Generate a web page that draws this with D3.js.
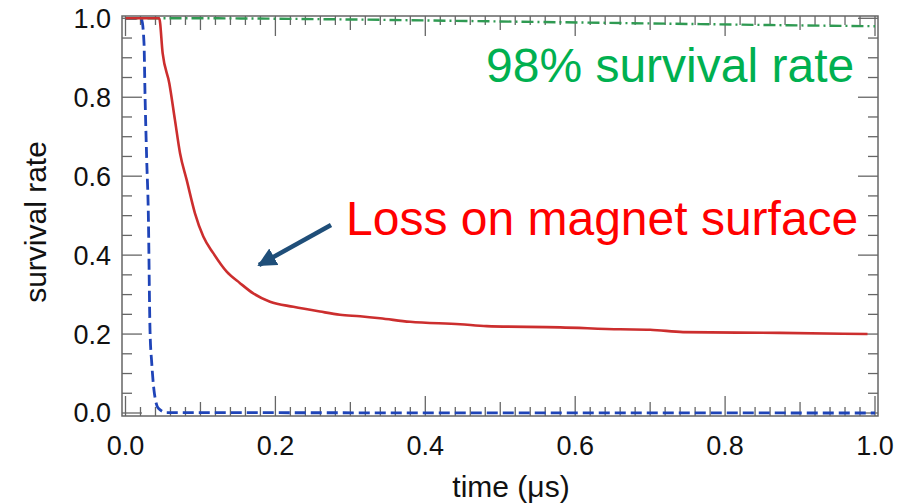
<!DOCTYPE html>
<html>
<head>
<meta charset="utf-8">
<script src="https://cdn.jsdelivr.net/npm/d3@7/dist/d3.min.js"></script>
<style>
  html, body { margin: 0; padding: 0; background: #fff; }
  svg { display: block; font-family: "Liberation Sans", Arial, sans-serif; }
</style>
</head>
<body>
<svg id="chart" width="906" height="504"></svg>
<script>
// Survival rate vs. time (µs) for three cases
const xTicks = [0.0, 0.2, 0.4, 0.6, 0.8, 1.0];
const yTicks = [0.0, 0.2, 0.4, 0.6, 0.8, 1.0];

// dashed blue: fast loss
const blueX = [0, 0.0193, 0.0216, 0.0247, 0.026, 0.0283, 0.0304, 0.0327, 0.035, 0.038, 0.0438, 0.055, 1.0];
const blueY = [1.0, 1.0, 0.996, 0.937, 0.811, 0.641, 0.511, 0.21, 0.127, 0.058, 0.012, 0.001, 0.0];

// solid red: loss on magnet surface
const redX = [0, 0.045, 0.0496, 0.0585, 0.066, 0.0727, 0.0817, 0.0927, 0.1038, 0.1171, 0.135, 0.1528, 0.1705, 0.1928, 0.2239, 0.2595, 0.2862, 0.313, 0.3396, 0.3796, 0.4463, 0.482, 0.58, 0.66, 0.70, 0.744, 0.873, 0.99];
const redY = [1.0, 1.0, 0.911, 0.835, 0.742, 0.659, 0.59, 0.506, 0.447, 0.405, 0.358, 0.329, 0.303, 0.282, 0.269, 0.257, 0.249, 0.245, 0.240, 0.231, 0.225, 0.220, 0.217, 0.212, 0.211, 0.205, 0.203, 0.200];

// dash-dot green: 98% survival
const greenX = [0, 0.1, 0.3, 0.5, 0.7, 0.9, 1.0];
const greenY = [1.0, 1.0, 0.997, 0.992, 0.987, 0.982, 0.980];

const svg = d3.select("#chart");
const frame = { left: 122, right: 878, top: 16, bottom: 416 };
const x = d3.scaleLinear().domain([0, 1]).range([125.5, 875]);
const y = d3.scaleLinear().domain([0, 1]).range([413, 18.3]);

const axisColor = "#666";

// Ticks on all four sides, pointing inward
const xMinor = d3.range(0, 1.0001, 0.02).map(v => +v.toFixed(2));
const yMinor = d3.range(0, 1.0001, 0.05).map(v => +v.toFixed(2));
function xLen(v) {
  const k = Math.round(v * 50);
  if (k % 10 === 0) return 20;
  if (k % 5 === 0) return 14;
  return 9;
}
function yLen(v) {
  const k = Math.round(v * 20);
  if (k % 4 === 0) return 20;
  return 10;
}
const ticks = svg.append("g").attr("stroke", axisColor).attr("stroke-width", 1.3);
xMinor.forEach(v => {
  ticks.append("line").attr("x1", x(v)).attr("x2", x(v)).attr("y1", frame.bottom).attr("y2", frame.bottom - xLen(v));
  ticks.append("line").attr("x1", x(v)).attr("x2", x(v)).attr("y1", frame.top).attr("y2", frame.top + xLen(v));
});
yMinor.forEach(v => {
  ticks.append("line").attr("y1", y(v)).attr("y2", y(v)).attr("x1", frame.left).attr("x2", frame.left + yLen(v));
  ticks.append("line").attr("y1", y(v)).attr("y2", y(v)).attr("x1", frame.right).attr("x2", frame.right - yLen(v));
});

svg.append("rect")
  .attr("x", frame.left).attr("y", frame.top)
  .attr("width", frame.right - frame.left).attr("height", frame.bottom - frame.top)
  .attr("fill", "none").attr("stroke", axisColor).attr("stroke-width", 1.5);

// Tick labels
svg.append("g").selectAll("text").data(xTicks).join("text")
  .attr("x", d => x(d)).attr("y", 455)
  .attr("text-anchor", "middle").attr("font-size", 27).attr("fill", "#111")
  .text(d => d.toFixed(1));
svg.append("g").selectAll("text").data(yTicks).join("text")
  .attr("x", 111).attr("y", d => y(d)).attr("dy", "0.35em")
  .attr("text-anchor", "end").attr("font-size", 27).attr("fill", "#111")
  .text(d => d.toFixed(1));

// Axis titles
svg.append("text").attr("x", 511).attr("y", 497)
  .attr("text-anchor", "middle").attr("font-size", 30).attr("fill", "#111")
  .text("time (\u03bcs)");
svg.append("text")
  .attr("transform", "translate(46,222) rotate(-90)")
  .attr("text-anchor", "middle").attr("font-size", 30).attr("fill", "#111")
  .text("survival rate");

// Curves
const line = d3.line().x(d => x(d[0])).y(d => y(d[1])).curve(d3.curveMonotoneX);
const zip = (a, b) => a.map((v, i) => [v, b[i]]);

svg.append("path").datum(zip(blueX, blueY)).attr("d", line)
  .attr("fill", "none").attr("stroke", "#1f44b8").attr("stroke-width", 2.8)
  .attr("stroke-dasharray", "11,5");
svg.append("path").datum(zip(greenX, greenY)).attr("d", line)
  .attr("fill", "none").attr("stroke", "#2f9a52").attr("stroke-width", 2.4)
  .attr("stroke-dasharray", "12,4,2,4");
svg.append("path").datum(zip(redX, redY)).attr("d", line)
  .attr("fill", "none").attr("stroke", "#cc2e2e").attr("stroke-width", 2.6);

// Annotations
svg.append("text").attr("x", 486).attr("y", 82)
  .attr("font-size", 48).attr("fill", "#00b050")
  .text("98% survival rate");
svg.append("text").attr("x", 346).attr("y", 235)
  .attr("font-size", 48).attr("fill", "#ff0000")
  .text("Loss on magnet surface");

// Arrow pointing to the red curve
svg.append("defs").append("marker")
  .attr("id", "head").attr("viewBox", "0 0 10 10")
  .attr("refX", 9).attr("refY", 5)
  .attr("markerWidth", 4.2).attr("markerHeight", 4.2)
  .attr("markerUnits", "strokeWidth")
  .attr("orient", "auto")
  .append("path").attr("d", "M0,0 L10,5 L0,10 Z").attr("fill", "#1f4e79");
svg.append("line")
  .attr("x1", 331).attr("y1", 225).attr("x2", 259).attr("y2", 265)
  .attr("stroke", "#1f4e79").attr("stroke-width", 4.5)
  .attr("marker-end", "url(#head)");
</script>
</body>
</html>
